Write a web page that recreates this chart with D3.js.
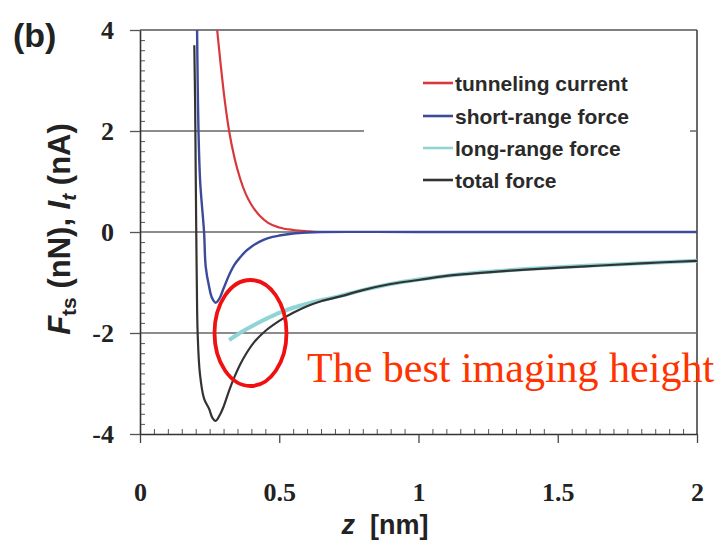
<!DOCTYPE html>
<html><head><meta charset="utf-8">
<script src="https://cdn.jsdelivr.net/npm/d3@7"></script>
<style>body{margin:0;background:#fff}</style>
</head><body>
<svg id="c" width="725" height="547"></svg>
<script>
// ---- data ----
const xTicks = [0, 0.5, 1, 1.5, 2];
const xTickLabels = ["0", "0.5", "1", "1.5", "2"];
const yTicks = [-4, -2, 0, 2, 4];
const yTickLabels = ["-4", "-2", "0", "2", "4"];
const gridY = [-2, 0, 2];
const seriesNames = ["tunneling current", "short-range force", "long-range force", "total force"];
const seriesColors = ["#d8383c", "#3c4a9c", "#90d4d6", "#333333"];

const tunnelZ = [0.277, 0.29, 0.30, 0.32, 0.34, 0.36, 0.38, 0.40, 0.43, 0.46, 0.50, 0.55, 0.60, 0.65, 0.70, 1.0, 2.0];
const tunnelI = [4.0, 3.3, 2.8, 2.0, 1.45, 1.05, 0.75, 0.54, 0.32, 0.18, 0.09, 0.04, 0.015, 0.0, 0.0, 0.0, 0.0];

const shortZ = [0.205, 0.207, 0.210, 0.216, 0.230, 0.236, 0.248, 0.259, 0.272, 0.285, 0.30, 0.32, 0.34, 0.36, 0.38, 0.40, 0.43, 0.46, 0.50, 0.55, 0.60, 0.65, 1.0, 2.0];
const shortF = [4.0, 3.0, 2.0, 1.0, 0.0, -0.69, -1.08, -1.31, -1.40, -1.32, -1.12, -0.85, -0.64, -0.50, -0.38, -0.29, -0.19, -0.12, -0.07, -0.03, -0.01, 0.0, 0.0, 0.0];

const longZ = [0.32, 0.35, 0.38, 0.42, 0.46, 0.50, 0.55, 0.60, 0.65, 0.716, 0.80, 0.90, 1.0, 1.1, 1.2, 1.4, 1.6, 1.8, 2.0];
const longF = [-2.14, -2.03, -1.93, -1.81, -1.70, -1.60, -1.50, -1.42, -1.35, -1.27, -1.15, -1.03, -0.94, -0.87, -0.81, -0.73, -0.67, -0.62, -0.57];

const totalZ = [0.195, 0.198, 0.200, 0.202, 0.204, 0.207, 0.215, 0.230, 0.248, 0.260, 0.272, 0.285, 0.30, 0.32, 0.34, 0.36, 0.38, 0.41, 0.45, 0.50, 0.55, 0.60, 0.65, 0.716, 0.80, 0.90, 1.0, 1.1, 1.2, 1.4, 1.6, 1.8, 2.0];
const totalF = [3.7, 2.5, 1.2, 0.0, -1.0, -2.0, -2.8, -3.3, -3.5, -3.68, -3.74, -3.64, -3.46, -3.14, -2.86, -2.62, -2.42, -2.18, -1.96, -1.76, -1.60, -1.47, -1.37, -1.28, -1.15, -1.03, -0.95, -0.87, -0.82, -0.74, -0.68, -0.62, -0.57];

// ---- layout ----
const svg = d3.select("#c");
const L = 140, R = 697, T = 30, B = 434;
const x = d3.scaleLinear().domain([0, 2]).range([L, R]);
const y = d3.scaleLinear().domain([-4, 4]).range([B, T]);

// frame (top, right)
svg.append("line").attr("x1", L).attr("x2", R).attr("y1", y(4)).attr("y2", y(4)).attr("stroke", "#555").attr("stroke-width", 1.5);
svg.append("line").attr("x1", R).attr("x2", R).attr("y1", T).attr("y2", B).attr("stroke", "#444").attr("stroke-width", 1.6);

// grid lines
svg.append("g").selectAll("line").data(gridY).join("line")
  .attr("x1", L).attr("x2", R).attr("y1", d => y(d)).attr("y2", d => y(d))
  .attr("stroke", "#666").attr("stroke-width", 1.4);

// legend background (covers grid)
svg.append("rect").attr("x", 364).attr("y", 62).attr("width", 326).attr("height", 136).attr("fill", "#fff");

// minor ticks
const xMinor = d3.range(0, 2.0001, 0.05).map(v => +v.toFixed(2)).filter(v => !xTicks.includes(v));
const yMinor = d3.range(-4, 4.0001, 0.2).map(v => +v.toFixed(1)).filter(v => !yTicks.includes(v));
const gxm = svg.append("g").attr("transform", `translate(0,${B})`)
  .call(d3.axisBottom(x).tickValues(xMinor).tickSize(-5).tickFormat(""));
gxm.select(".domain").remove();
gxm.selectAll("line").attr("stroke", "#555");
const gym = svg.append("g").attr("transform", `translate(${L},0)`)
  .call(d3.axisLeft(y).tickValues(yMinor).tickSize(-5).tickFormat(""));
gym.select(".domain").remove();
gym.selectAll("line").attr("stroke", "#555");

// major axes
const gx = svg.append("g").attr("transform", `translate(0,${B})`)
  .call(d3.axisBottom(x).tickValues(xTicks).tickSizeInner(9).tickSizeOuter(0).tickPadding(40)
    .tickFormat((d, i) => xTickLabels[i]));
gx.select(".domain").attr("stroke", "#333").attr("stroke-width", 1.6);
gx.selectAll("line").attr("stroke", "#444").attr("stroke-width", 1.3);
gx.selectAll("text").attr("font-family", "Liberation Serif, Times New Roman, serif")
  .attr("font-weight", "bold").attr("font-size", 26).attr("fill", "#222");

const gy = svg.append("g").attr("transform", `translate(${L},0)`)
  .call(d3.axisLeft(y).tickValues(yTicks).tickSizeInner(10).tickSizeOuter(0).tickPadding(16)
    .tickFormat((d, i) => yTickLabels[i]));
gy.select(".domain").attr("stroke", "#333").attr("stroke-width", 1.6);
gy.selectAll("line").attr("stroke", "#555").attr("stroke-width", 1.3);
gy.selectAll("text").attr("font-family", "Liberation Serif, Times New Roman, serif")
  .attr("font-weight", "bold").attr("font-size", 26).attr("fill", "#222");

// curves
svg.append("clipPath").attr("id", "clip").append("rect").attr("x", L).attr("y", T).attr("width", R - L).attr("height", B - T);
const line = d3.line().x(d => x(d[0])).y(d => y(d[1])).curve(d3.curveCatmullRom);
const curves = svg.append("g").attr("clip-path", "url(#clip)");
const zip = (a, b) => a.map((v, i) => [v, b[i]]);
curves.append("path").datum(zip(tunnelZ, tunnelI)).attr("d", d3.line().x(d => x(d[0])).y(d => y(d[1])).curve(d3.curveMonotoneX)).attr("fill", "none").attr("stroke", seriesColors[0]).attr("stroke-width", 2.2);
curves.append("path").datum(zip(longZ, longF)).attr("d", line).attr("fill", "none").attr("stroke", seriesColors[2]).attr("stroke-width", 4);
curves.append("path").datum(zip(totalZ, totalF)).attr("d", line).attr("fill", "none").attr("stroke", seriesColors[3]).attr("stroke-width", 2.2);
curves.append("path").datum(zip(shortZ, shortF)).attr("d", line).attr("fill", "none").attr("stroke", seriesColors[1]).attr("stroke-width", 2.4);

// legend
const lg = svg.append("g");
const rowsY = [83, 116, 148, 180];
seriesNames.forEach((n, i) => {
  lg.append("line").attr("x1", 423).attr("x2", 453).attr("y1", rowsY[i]).attr("y2", rowsY[i])
    .attr("stroke", seriesColors[i]).attr("stroke-width", 2.6);
  lg.append("text").attr("x", 455).attr("y", rowsY[i]).attr("dy", "0.36em")
    .attr("font-family", "Liberation Sans, Arial, sans-serif").attr("font-weight", "bold")
    .attr("font-size", 21).attr("fill", "#2a2a2a").text(n);
});

// axis titles
const yt = svg.append("text").attr("transform", "translate(70,229) rotate(-90)")
  .attr("text-anchor", "middle").attr("font-family", "Liberation Sans, Arial, sans-serif")
  .attr("font-weight", "bold").attr("font-size", 31).attr("fill", "#222");
yt.append("tspan").attr("font-style", "italic").text("F");
yt.append("tspan").attr("font-size", 21).attr("dy", 6).text("ts");
yt.append("tspan").attr("dy", -6).text(" (nN), ");
yt.append("tspan").attr("font-style", "italic").text("I");
yt.append("tspan").attr("font-style", "italic").attr("font-size", 21).attr("dy", 6).text("t");
yt.append("tspan").attr("dy", -6).text(" (nA)");

const xt = svg.append("text").attr("x", 385).attr("y", 534).attr("text-anchor", "middle")
  .attr("font-family", "Liberation Sans, Arial, sans-serif").attr("font-weight", "bold")
  .attr("font-size", 27).attr("fill", "#222");
xt.append("tspan").attr("font-style", "italic").text("z");
xt.append("tspan").text("\u00a0 [nm]");

// panel label
svg.append("text").attr("x", 13).attr("y", 47).attr("font-family", "Liberation Sans, Arial, sans-serif")
  .attr("font-weight", "bold").attr("font-size", 34).attr("fill", "#222").text("(b)");

// annotation
svg.append("ellipse").attr("cx", 250.5).attr("cy", 333).attr("rx", 36).attr("ry", 53)
  .attr("fill", "none").attr("stroke", "#f01010").attr("stroke-width", 3.8);
svg.append("text").attr("x", 307).attr("y", 382).attr("font-family", "Liberation Serif, Times New Roman, serif")
  .attr("font-size", 42).attr("fill", "#ff3300").text("The best imaging height");
</script>
</body></html>
